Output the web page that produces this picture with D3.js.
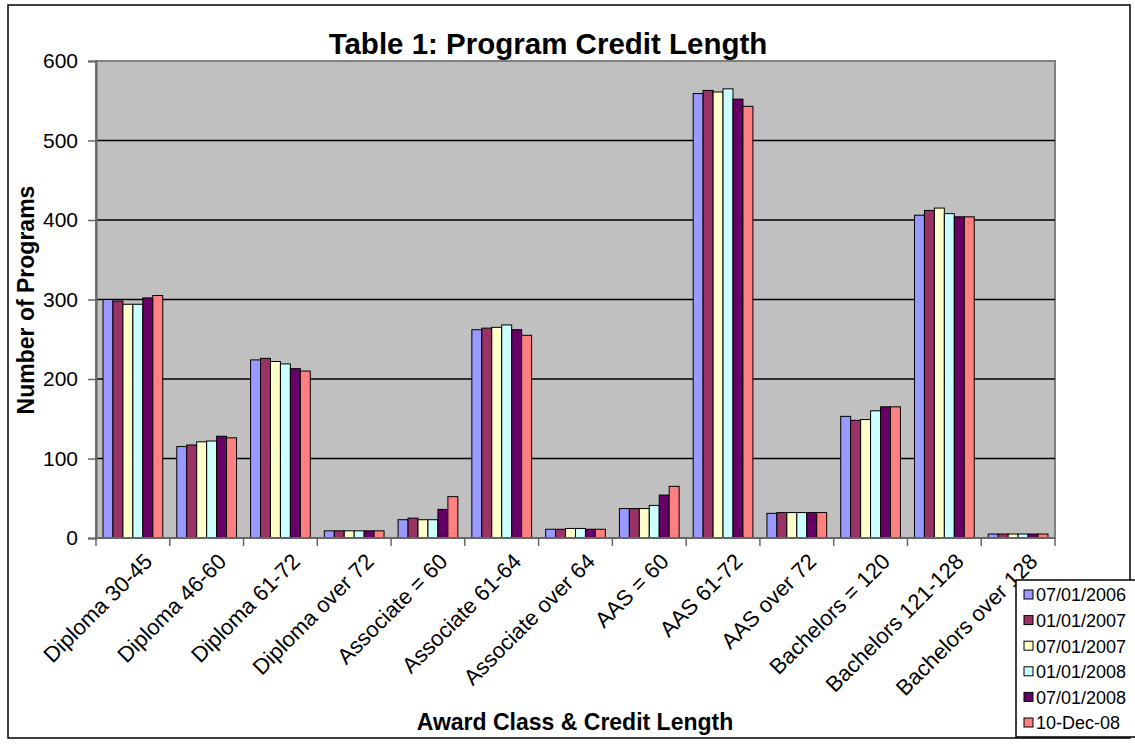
<!DOCTYPE html>
<html><head><meta charset="utf-8">
<script src="https://cdn.jsdelivr.net/npm/d3@7"></script>
<style>body{margin:0;background:#fff;} svg{display:block;font-family:Arial,"Liberation Sans",sans-serif;}</style>
</head><body><svg id="c" width="1135" height="744"></svg>
<script>
const categories = ["Diploma 30-45","Diploma 46-60","Diploma 61-72","Diploma over 72","Associate = 60","Associate 61-64","Associate over 64","AAS = 60","AAS 61-72","AAS over 72","Bachelors = 120","Bachelors 121-128","Bachelors over 128"];
const seriesNames = ["07/01/2006","01/01/2007","07/01/2007","01/01/2008","07/01/2008","10-Dec-08"];
const s2006a = [300,115,224,9,23,262,11,37,559,31,153,406,5];
const s2007a = [298,117,226,9,25,264,11,37,563,32,148,412,5];
const s2007b = [294,121,222,9,23,265,12,37,561,32,149,415,5];
const s2008a = [294,122,219,9,23,268,12,41,565,32,160,408,5];
const s2008b = [302,128,213,9,36,262,11,54,552,32,165,404,5];
const sDec08 = [305,126,210,9,52,255,11,65,543,32,165,404,5];
const yTicks = [0,100,200,300,400,500,600];
const colors = ["#9999FF","#993366","#FFFFCC","#CCFFFF","#660066","#FF8080"];
const series = [s2006a,s2007a,s2007b,s2008a,s2008b,sDec08];

const svg = d3.select("#c");
const L=96, T=61, R=1055, B=538;
svg.append("rect").attr("x",8).attr("y",5).attr("width",1122).attr("height",733).attr("fill","#fff").attr("stroke","#000").attr("stroke-width",1.5);

const x0 = d3.scaleBand().domain(categories).range([L,R]).paddingInner(0.19).paddingOuter(0.095);
const x1 = d3.scaleBand().domain(d3.range(6)).range([0,x0.bandwidth()]);
const y = d3.scaleLinear().domain([0,600]).range([B,T]);

svg.append("rect").attr("x",L).attr("y",T).attr("width",R-L).attr("height",B-T).attr("fill","#C0C0C0").attr("stroke","#808080").attr("stroke-width",2);
svg.append("g").selectAll("line").data(yTicks.filter(d=>d>0&&d<600)).join("line")
  .attr("x1",L).attr("x2",R).attr("y1",d=>y(d)).attr("y2",d=>y(d)).attr("stroke","#000").attr("stroke-width",1.5);

const g = svg.append("g");
categories.forEach((c,i)=>{
  series.forEach((s,j)=>{
    g.append("rect").attr("x",x0(c)+x1(j)).attr("y",y(s[i])).attr("width",x1.bandwidth()).attr("height",B-y(s[i]))
     .attr("fill",colors[j]).attr("stroke","#000").attr("stroke-width",1);
  });
});

// y axis
const ya = svg.append("g").attr("transform",`translate(${L},0)`).call(d3.axisLeft(y).tickValues(yTicks).tickSize(8).tickPadding(10));
ya.select(".domain").attr("stroke","#666").attr("stroke-width",2);
ya.selectAll(".tick line").attr("stroke","#666").attr("stroke-width",1.5);
ya.selectAll("text").attr("font-size",21).attr("fill","#000").style("font-family","Arial, 'Liberation Sans', sans-serif");

// x axis
svg.append("line").attr("x1",L).attr("x2",R).attr("y1",B).attr("y2",B).attr("stroke","#666").attr("stroke-width",2);
const step = x0.step();
svg.append("g").selectAll("line").data(d3.range(categories.length+1)).join("line")
  .attr("x1",d=>L+d*step).attr("x2",d=>L+d*step).attr("y1",B).attr("y2",B+8).attr("stroke","#666").attr("stroke-width",1.5);
svg.append("g").selectAll("text").data(categories).join("text")
  .attr("transform",d=>`translate(${x0(d)+x0.bandwidth()/2+10},${B+14}) rotate(-45)`)
  .attr("text-anchor","end").attr("dy","0.7em").attr("font-size",22).text(d=>d);

svg.append("text").attr("x",548).attr("y",54).attr("text-anchor","middle").attr("font-weight","bold").attr("font-size",29.5).text("Table 1: Program Credit Length");
svg.append("text").attr("x",575).attr("y",730).attr("text-anchor","middle").attr("font-weight","bold").attr("font-size",23).text("Award Class & Credit Length");
svg.append("text").attr("transform","translate(34,300) rotate(-90)").attr("text-anchor","middle").attr("font-weight","bold").attr("font-size",23).text("Number of Programs");

// legend
const lg = svg.append("g");
lg.append("rect").attr("x",1016).attr("y",580).attr("width",125).attr("height",157).attr("fill","#fff").attr("stroke","#000").attr("stroke-width",1.5);
seriesNames.forEach((n,i)=>{
  const yy = 595 + i*25.6;
  lg.append("rect").attr("x",1024).attr("y",yy-5).attr("width",9).attr("height",9).attr("fill",colors[i]).attr("stroke","#000").attr("stroke-width",1);
  lg.append("text").attr("x",1036).attr("y",yy).attr("dy","0.35em").attr("font-size",18).text(n);
});
</script></body></html>
